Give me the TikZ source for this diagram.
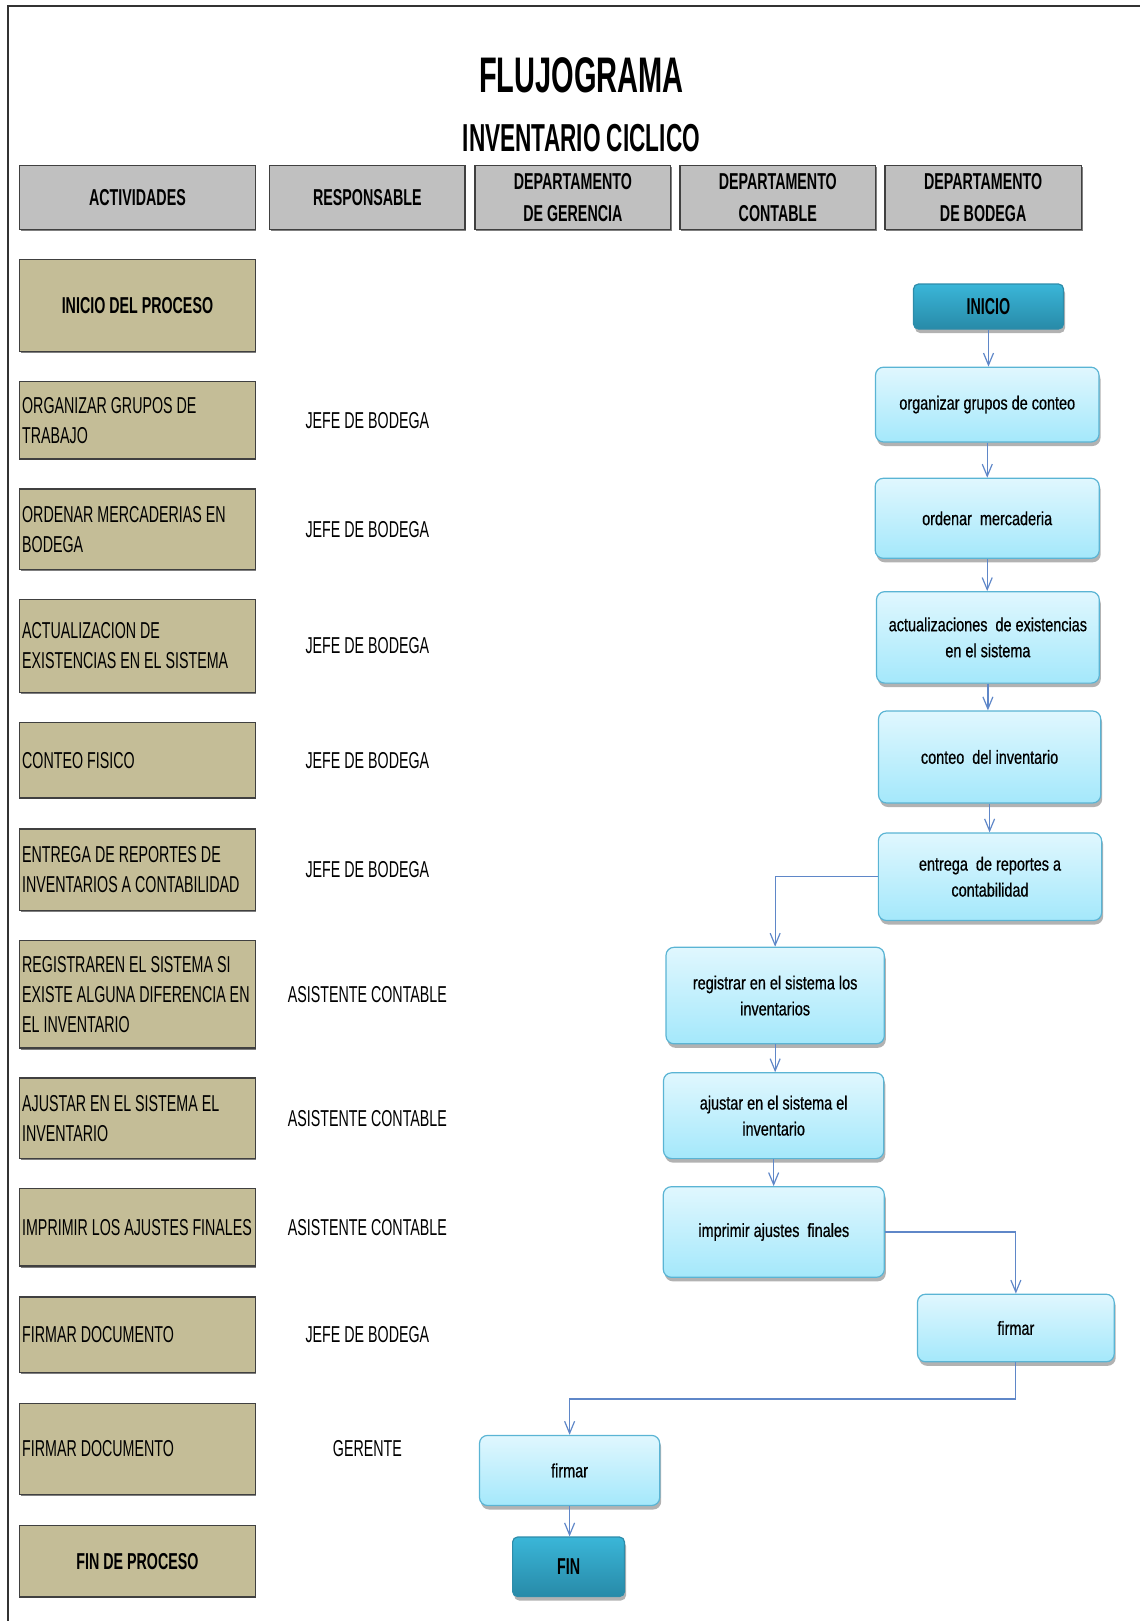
\documentclass[tikz,border=0pt]{standalone}
\usepackage{fontspec}
\setmainfont{Liberation Sans}
\newfontfamily\lfont[FakeStretch=0.62]{Liberation Sans}
\newfontfamily\ffont[FakeStretch=0.76,FakeBold=0.6]{Liberation Sans}
\newfontfamily\tfont[FakeStretch=0.58]{Liberation Sans}
\usetikzlibrary{arrows.meta,shadows}
\definecolor{tanc}{RGB}{196,189,151}
\definecolor{hdrgray}{RGB}{192,192,192}
\definecolor{lineblue}{RGB}{95,135,200}
\definecolor{flowtop}{RGB}{224,247,254}
\definecolor{flowbot}{RGB}{164,232,251}
\definecolor{flowedge}{RGB}{90,180,212}
\definecolor{termtop}{RGB}{58,182,216}
\definecolor{termbot}{RGB}{40,138,168}
\definecolor{termedge}{RGB}{45,140,170}
\tikzset{
  frame/.style={draw=black!80, line width=2.2},
  hdrbox/.style={draw=black!75, line width=1.5, fill=hdrgray, inner sep=0, align=center,
    minimum height=64, font=\lfont\bfseries\fontsize{23}{32}\selectfont,
    drop shadow={shadow xshift=1pt, shadow yshift=-1.5pt, opacity=0.5, fill=black}},
  tanbox/.style={draw=black!75, line width=1.5, fill=tanc, inner sep=0, align=center,
    minimum width=235.7, font=\lfont\bfseries\fontsize{23}{30}\selectfont,
    drop shadow={shadow xshift=1pt, shadow yshift=-1.5pt, opacity=0.5, fill=black}},
  ltxt/.style={anchor=west, inner sep=0, align=left, font=\lfont\fontsize{23}{30}\selectfont},
  rtxt/.style={inner sep=0, font=\lfont\fontsize{23}{30}\selectfont},
  flowbox/.style={draw=flowedge, line width=1.2, rounded corners=8pt, top color=flowtop,
    bottom color=flowbot, inner sep=0, align=center, font=\ffont\fontsize{19}{26}\selectfont,
    drop shadow={shadow xshift=1.5pt, shadow yshift=-4pt, opacity=0.3, fill=black}},
  termbox/.style={draw=termedge, line width=1.2, rounded corners=5pt, top color=termtop,
    bottom color=termbot, inner sep=0, align=center, font=\lfont\bfseries\fontsize{23}{30}\selectfont,
    drop shadow={shadow xshift=1.5pt, shadow yshift=-4pt, opacity=0.3, fill=black}},
  arr/.style={draw=lineblue, line width=1.2, -{Straight Barb[length=12pt, width=10pt]}},
}
\begin{document}
\begin{tikzpicture}[x=1pt,y=-1pt]
\useasboundingbox (0,0) rectangle (1140,1621);
% frame
\coordinate (fbl) at (8.3,1621);
\coordinate (ftl) at (8.3,5.7);
\coordinate (ftr) at (1140,5.7);
\draw[frame] (fbl) -- (ftl) -- (ftr);
% titles
\node[inner sep=0, font=\tfont\bfseries\fontsize{50}{60}\selectfont] (title) at (581.4,75) {FLUJOGRAMA};
\node[inner sep=0, font=\tfont\bfseries\fontsize{39}{46}\selectfont] (subtitle) at (581.4,138) {INVENTARIO CICLICO};
% headers
\node[hdrbox, minimum width=235.7] (h1) at (137.45,197.4) {ACTIVIDADES};
\node[hdrbox, minimum width=195.4] (h2) at (367.4,197.4) {RESPONSABLE};
\node[hdrbox, minimum width=195.7] (h3) at (572.85,197.4) {DEPARTAMENTO\\DE GERENCIA};
\node[hdrbox, minimum width=195.6] (h4) at (777.8,197.4) {DEPARTAMENTO\\CONTABLE};
\node[hdrbox, minimum width=196.7] (h5) at (983.15,197.4) {DEPARTAMENTO\\DE BODEGA};
% activity boxes
\node[tanbox, minimum height=92] (a1) at (137.45,305.4) {INICIO DEL PROCESO};
\node[tanbox, minimum height=77.5] (a2) at (137.45,420.15) {};
\node[tanbox, minimum height=80.7] (a3) at (137.45,529.15) {};
\node[tanbox, minimum height=93] (a4) at (137.45,645.9) {};
\node[tanbox, minimum height=75.5] (a5) at (137.45,760.15) {};
\node[tanbox, minimum height=81.6] (a6) at (137.45,869.7) {};
\node[tanbox, minimum height=107.5] (a7) at (137.45,994.25) {};
\node[tanbox, minimum height=80.6] (a8) at (137.45,1118.3) {};
\node[tanbox, minimum height=77.5] (a9) at (137.45,1227.25) {};
\node[tanbox, minimum height=75.5] (a10) at (137.45,1334.75) {};
\node[tanbox, minimum height=91] (a11) at (137.45,1448.95) {};
\node[tanbox, minimum height=71.4] (a12) at (137.45,1561.1) {FIN DE PROCESO};
% activity texts
\node[ltxt] (t2) at ([xshift=3.1pt]a2.west) {ORGANIZAR GRUPOS DE\\TRABAJO};
\node[ltxt] (t3) at ([xshift=3.1pt]a3.west) {ORDENAR MERCADERIAS EN\\BODEGA};
\node[ltxt] (t4) at ([xshift=3.1pt]a4.west) {ACTUALIZACION DE\\EXISTENCIAS EN EL SISTEMA};
\node[ltxt] (t5) at ([xshift=3.1pt]a5.west) {CONTEO FISICO};
\node[ltxt] (t6) at ([xshift=3.1pt]a6.west) {ENTREGA DE REPORTES DE\\INVENTARIOS A CONTABILIDAD};
\node[ltxt] (t7) at ([xshift=3.1pt]a7.west) {REGISTRAREN EL SISTEMA SI\\EXISTE ALGUNA DIFERENCIA EN\\EL INVENTARIO};
\node[ltxt] (t8) at ([xshift=3.1pt]a8.west) {AJUSTAR EN EL SISTEMA EL\\INVENTARIO};
\node[ltxt] (t9) at ([xshift=3.1pt]a9.west) {IMPRIMIR LOS AJUSTES FINALES};
\node[ltxt] (t10) at ([xshift=3.1pt]a10.west) {FIRMAR DOCUMENTO};
\node[ltxt] (t11) at ([xshift=3.1pt]a11.west) {FIRMAR DOCUMENTO};
% responsible
\node[rtxt] (r2) at (a2 -| h2) {JEFE DE BODEGA};
\node[rtxt] (r3) at (a3 -| h2) {JEFE DE BODEGA};
\node[rtxt] (r4) at (a4 -| h2) {JEFE DE BODEGA};
\node[rtxt] (r5) at (a5 -| h2) {JEFE DE BODEGA};
\node[rtxt] (r6) at (a6 -| h2) {JEFE DE BODEGA};
\node[rtxt] (r7) at (a7 -| h2) {ASISTENTE CONTABLE};
\node[rtxt] (r8) at (a8 -| h2) {ASISTENTE CONTABLE};
\node[rtxt] (r9) at (a9 -| h2) {ASISTENTE CONTABLE};
\node[rtxt] (r10) at (a10 -| h2) {JEFE DE BODEGA};
\node[rtxt] (r11) at (a11 -| h2) {GERENTE};
% flow
\node[termbox, minimum width=150, minimum height=45] (inicio) at (988.5,306.5) {INICIO};
\node[flowbox, minimum width=223.5, minimum height=74.8] (org) at (987.25,404.6) {organizar grupos de conteo};
\node[flowbox, minimum width=224, minimum height=80] (ord) at (987.2,518.3) {ordenar~ mercaderia};
\node[flowbox, minimum width=222.8, minimum height=91.4] (act) at (987.9,637.4) {actualizaciones~ de existencias\\en el sistema};
\node[flowbox, minimum width=222.2, minimum height=92] (con) at (989.6,757) {conteo~ del inventario};
\node[flowbox, minimum width=223.3, minimum height=87.5] (ent) at (990,876.75) {entrega~ de reportes a\\contabilidad};
\node[flowbox, minimum width=218.3, minimum height=96.5] (reg) at (775.15,995.55) {registrar en el sistema los\\inventarios};
\node[flowbox, minimum width=220.3, minimum height=85.8] (aju) at (773.65,1115.7) {ajustar en el sistema el\\inventario};
\node[flowbox, minimum width=221, minimum height=90.6] (imp) at (773.8,1232) {imprimir ajustes~ finales};
\node[flowbox, minimum width=196.7, minimum height=67.6] (firR) at (1015.85,1328) {firmar};
\node[flowbox, minimum width=180.2, minimum height=70.1] (firL) at (569.6,1470.45) {firmar};
\node[termbox, minimum width=111.9, minimum height=59.5] (fin) at (568.55,1566.75) {FIN};
% connectors
\draw[arr] (inicio.south) -- (inicio.south |- org.north);
\draw[arr] (org.south) -- (org.south |- ord.north);
\draw[arr] (ord.south) -- (ord.south |- act.north);
\draw[arr] (act.south) -- (act.south |- con.north);
\draw[arr] (con.south) -- (con.south |- ent.north);
\draw[arr] (ent.west) -| (reg.north);
\draw[arr] (reg.south) -- (reg.south |- aju.north);
\draw[arr] (aju.south) -- (aju.south |- imp.north);
\draw[arr] (imp.east) -| (firR.north);
\draw[arr] (firR.south) -- ++(0,36.5) -| (firL.north);
\draw[arr] (firL.south) -- (firL.south |- fin.north);
\end{tikzpicture}
\end{document}
